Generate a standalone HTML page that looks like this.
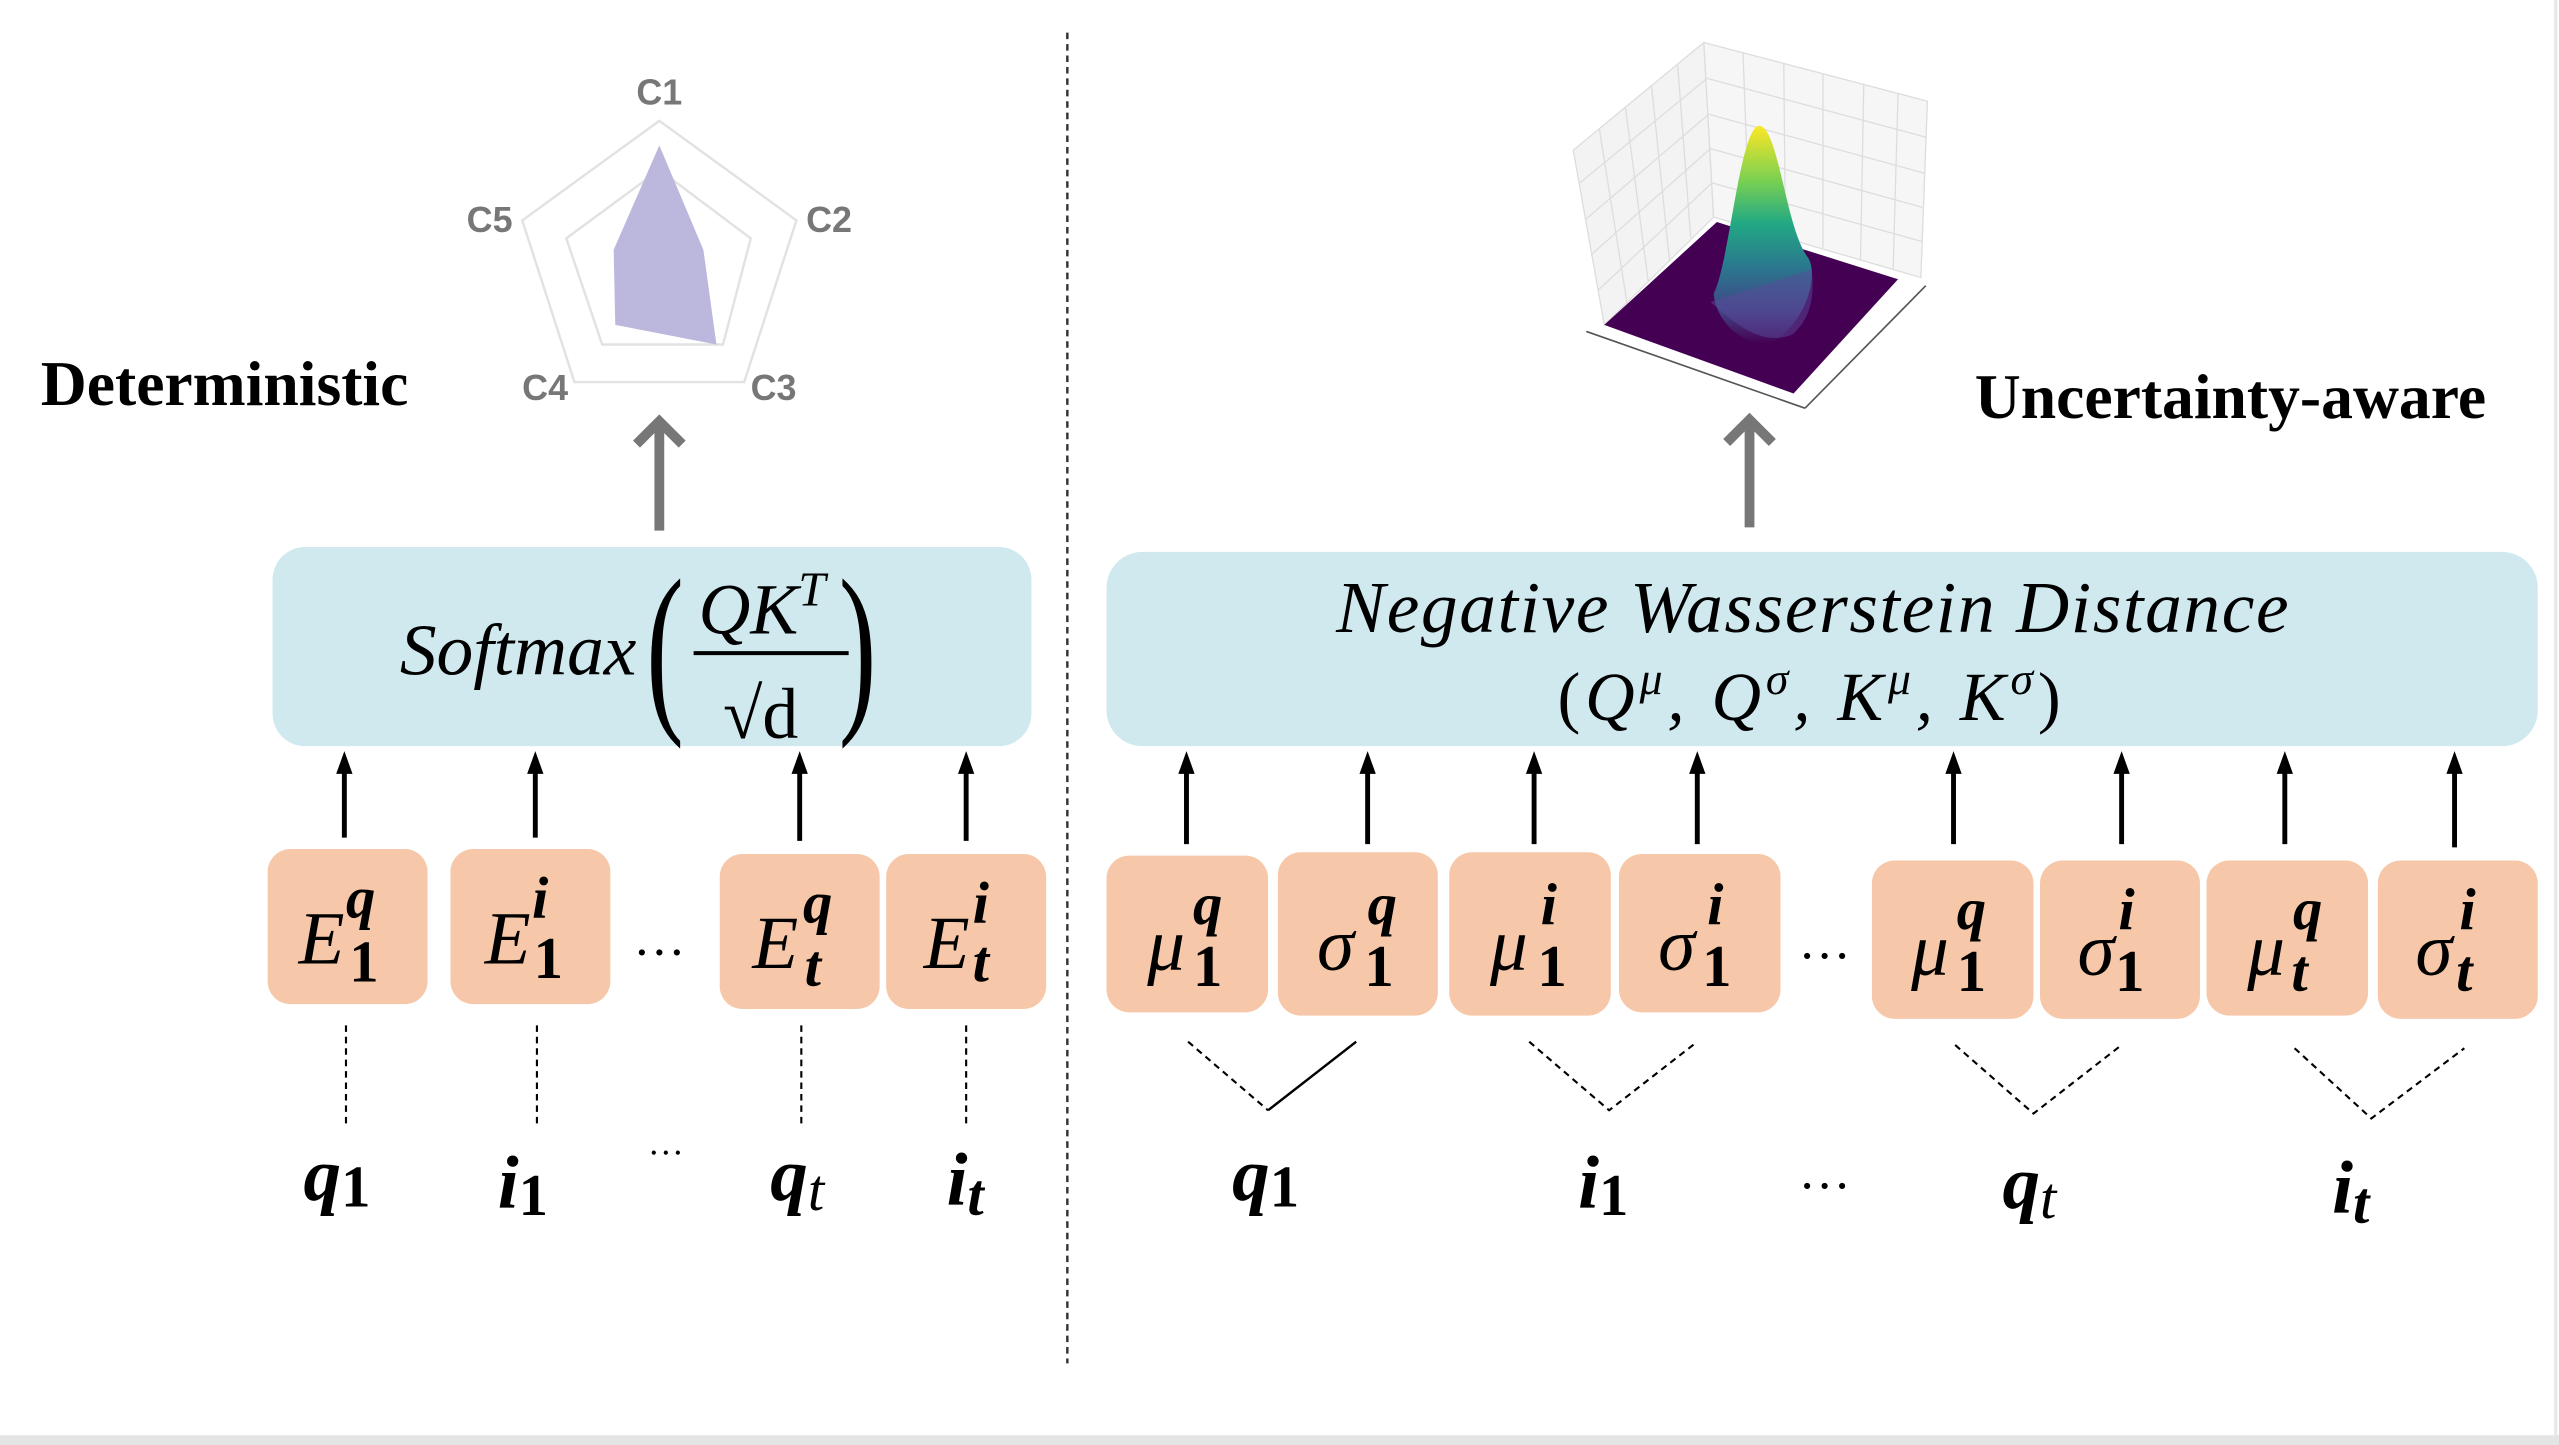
<!DOCTYPE html>
<html><head><meta charset="utf-8"><style>
html,body{margin:0;padding:0;background:#fff;}
svg{display:block;}
.serif{font-family:"Liberation Serif",serif;}
.lab{font-family:"Liberation Serif",serif;font-style:italic;font-weight:bold;}
</style></head><body>
<svg width="2559" height="1445" viewBox="0 0 1568 885" preserveAspectRatio="none" xmlns="http://www.w3.org/2000/svg">
<defs>
<linearGradient id="g" x1="0" y1="0" x2="0" y2="1">
<stop offset="0" stop-color="#fde725"/><stop offset="0.25" stop-color="#7ad151"/><stop offset="0.45" stop-color="#22a884"/><stop offset="0.65" stop-color="#2a788e"/><stop offset="0.85" stop-color="#414487"/><stop offset="1" stop-color="#440154"/>
</linearGradient>
</defs>
<rect x="0" y="879" width="1568" height="6" fill="#e4e4e4"/>
<line x1="1566" y1="0" x2="1566" y2="879" stroke="#e8e8e8" stroke-width="2"/>
<line x1="654" y1="20" x2="654" y2="835" stroke="#333" stroke-width="1.5" stroke-dasharray="4,3"/>

<!-- radar -->
<polygon points="404,74 488,135 456,234 352,234 320,135" fill="none" stroke="#e2e2e2" stroke-width="1.5"/>
<polygon points="404,104 460,146 443,211 369,211 347,146" fill="none" stroke="#e2e2e2" stroke-width="1.5"/>
<polygon points="404,89 431,153 439,211 377,199 376,153" fill="#bcb8dd"/>
<g font-family="Liberation Sans,sans-serif" font-weight="bold" font-size="22" fill="#777" text-anchor="middle">
<text x="404" y="64">C1</text><text x="508" y="142">C2</text><text x="474" y="245">C3</text><text x="334" y="245">C4</text><text x="300" y="142">C5</text></g>
<text x="25" y="248" class="serif" font-weight="bold" font-size="39">Deterministic</text>
<g stroke="#777" stroke-width="6" fill="none"><line x1="404" y1="325" x2="404" y2="258"/><polyline points="390,272 404,258 418,272"/></g>

<rect x="167" y="335" width="465" height="122" rx="20" fill="#d0e9ef"/>
<text x="245" y="413" class="serif" font-style="italic" font-size="45">Softmax</text>
<text x="396" y="434" class="serif" font-size="115" transform="scale(0.6,1)" style="transform-origin:396px 0">(</text>
<text x="514" y="434" class="serif" font-size="115" transform="scale(0.6,1)" style="transform-origin:514px 0">)</text>
<text x="428" y="388" class="serif" font-style="italic" font-size="44">QK<tspan font-size="30" dy="-17">T</tspan></text>
<line x1="425" y1="400" x2="520" y2="400" stroke="#000" stroke-width="2.5"/>
<text x="443" y="452" class="serif" font-size="44">√d</text>

<g stroke="#000" stroke-width="3">
<line x1="211" y1="513" x2="211" y2="470"/><line x1="328" y1="513" x2="328" y2="470"/><line x1="490" y1="515" x2="490" y2="470"/><line x1="592" y1="515" x2="592" y2="470"/>
<line x1="727" y1="517" x2="727" y2="470"/><line x1="838" y1="517" x2="838" y2="470"/><line x1="940" y1="517" x2="940" y2="470"/><line x1="1040" y1="517" x2="1040" y2="470"/>
<line x1="1197" y1="517" x2="1197" y2="470"/><line x1="1300" y1="517" x2="1300" y2="470"/><line x1="1400" y1="517" x2="1400" y2="470"/><line x1="1504" y1="519" x2="1504" y2="470"/>
</g>
<g fill="#000">
<polygon points="206,474 211,460 216,474"/><polygon points="323,474 328,460 333,474"/><polygon points="485,474 490,460 495,474"/><polygon points="587,474 592,460 597,474"/>
<polygon points="722,474 727,460 732,474"/><polygon points="833,474 838,460 843,474"/><polygon points="935,474 940,460 945,474"/><polygon points="1035,474 1040,460 1045,474"/>
<polygon points="1192,474 1197,460 1202,474"/><polygon points="1295,474 1300,460 1305,474"/><polygon points="1395,474 1400,460 1405,474"/><polygon points="1499,474 1504,460 1509,474"/>
</g>

<g fill="#f6c8a9">
<rect x="164" y="520" width="98" height="95" rx="14"/><rect x="276" y="520" width="98" height="95" rx="14"/>
<rect x="441" y="523" width="98" height="95" rx="14"/><rect x="543" y="523" width="98" height="95" rx="14"/>
<rect x="678" y="524" width="99" height="96" rx="14"/><rect x="783" y="522" width="98" height="100" rx="14"/>
<rect x="888" y="522" width="99" height="100" rx="14"/><rect x="992" y="523" width="99" height="97" rx="14"/>
<rect x="1147" y="527" width="99" height="97" rx="14"/><rect x="1250" y="527" width="98" height="97" rx="14"/>
<rect x="1352" y="527" width="99" height="95" rx="14"/><rect x="1457" y="527" width="98" height="97" rx="14"/>
</g>
<g class="serif" font-style="italic" font-size="46">
<text x="183" y="590">E</text><text x="297" y="590">E</text><text x="461" y="593">E</text><text x="566" y="593">E</text>
<text x="703" y="594">μ</text><text x="807" y="594">σ</text><text x="913" y="594">μ</text><text x="1016" y="594">σ</text>
<text x="1171" y="597">μ</text><text x="1273" y="597">σ</text><text x="1377" y="597">μ</text><text x="1480" y="597">σ</text>
</g>
<g class="lab" font-size="36">
<text x="212" y="562">q</text><text x="214" y="601" font-style="normal">1</text>
<text x="326" y="562">i</text><text x="327" y="599" font-style="normal">1</text>
<text x="492" y="565">q</text><text x="493" y="604">t</text>
<text x="596" y="565">i</text><text x="596" y="601">t</text>
<text x="731" y="566">q</text><text x="731" y="604" font-style="normal">1</text>
<text x="838" y="566">q</text><text x="836" y="604" font-style="normal">1</text>
<text x="944" y="566">i</text><text x="942" y="604" font-style="normal">1</text>
<text x="1046" y="566">i</text><text x="1043" y="604" font-style="normal">1</text>
<text x="1199" y="569">q</text><text x="1199" y="607" font-style="normal">1</text>
<text x="1298" y="569">i</text><text x="1296" y="607" font-style="normal">1</text>
<text x="1405" y="569">q</text><text x="1404" y="607">t</text>
<text x="1507" y="569">i</text><text x="1505" y="607">t</text>
</g>
<g class="serif" font-size="32" text-anchor="middle"><text x="404" y="585">…</text><text x="1118" y="587">…</text><text x="1118" y="728">…</text></g>
<text x="408" y="707" class="serif" font-size="22" text-anchor="middle">…</text>

<g stroke="#000" stroke-width="1.3" stroke-dasharray="4,3" fill="none">
<line x1="212" y1="628" x2="212" y2="688"/><line x1="329" y1="628" x2="329" y2="688"/><line x1="491" y1="628" x2="491" y2="688"/><line x1="592" y1="628" x2="592" y2="688"/>
<polyline points="728,638 777,680"/>
<polyline points="937,638 986,680 1040,638"/>
<polyline points="1198,640 1246,682 1300,640"/>
<polyline points="1406,642 1453,685 1510,642"/>
</g>
<line x1="777" y1="680" x2="831" y2="638" stroke="#000" stroke-width="1.5"/>

<g class="lab" font-size="46">
<text x="186" y="735">q<tspan font-size="36" font-style="normal" dy="4">1</tspan></text>
<text x="305" y="740">i<tspan font-size="36" font-style="normal" dy="4">1</tspan></text>
<text x="472" y="735">q<tspan font-size="36" font-weight="normal" dy="6">t</tspan></text>
<text x="580" y="738">i<tspan font-size="36" dy="6">t</tspan></text>
<text x="755" y="735">q<tspan font-size="36" font-style="normal" dy="4">1</tspan></text>
<text x="967" y="740">i<tspan font-size="36" font-style="normal" dy="4">1</tspan></text>
<text x="1227" y="740">q<tspan font-size="36" font-weight="normal" dy="6">t</tspan></text>
<text x="1429" y="743">i<tspan font-size="36" dy="6">t</tspan></text>
</g>

<!-- 3D plot -->
<polygon points="964,92 1044,26 1050,133 983,199" fill="#f3f3f3" stroke="#ddd" stroke-width="0.8"/>
<polygon points="1044,26 1181,62 1177,170 1050,133" fill="#f6f6f6" stroke="#ddd" stroke-width="0.8"/>
<g stroke="#ddd" stroke-width="0.8">
<line x1="980" y1="79" x2="997" y2="186"/><line x1="996" y1="66" x2="1010" y2="173"/><line x1="1012" y1="53" x2="1023" y2="160"/><line x1="1028" y1="40" x2="1036" y2="146"/>
<line x1="1068" y1="32" x2="1072" y2="139"/><line x1="1093" y1="39" x2="1094" y2="146"/><line x1="1117" y1="45" x2="1117" y2="152"/><line x1="1142" y1="52" x2="1140" y2="159"/><line x1="1163" y1="57" x2="1160" y2="165"/>
<line x1="968" y1="112" x2="1046" y2="48"/><line x1="972" y1="134" x2="1047" y2="70"/><line x1="975" y1="156" x2="1048" y2="91"/><line x1="979" y1="178" x2="1049" y2="112"/>
<line x1="1046" y1="48" x2="1180" y2="84"/><line x1="1047" y1="70" x2="1179" y2="106"/><line x1="1048" y1="91" x2="1178" y2="127"/><line x1="1049" y1="112" x2="1178" y2="148"/>
</g>
<polygon points="983,199 1052,136 1163,171 1099,241" fill="#440154"/>
<path d="M1050,180 C1060,160 1066,78 1078,77 C1090,78 1094,140 1108,158 C1115,170 1105,200 1085,210 C1068,212 1052,198 1050,180 Z" fill="url(#g)"/>
<path d="M1048,185 C1065,200 1080,212 1098,205 C1110,195 1112,180 1110,165" fill="#5a4c9a" opacity="0.5"/>
<g stroke="#555" stroke-width="1"><line x1="972" y1="203" x2="1106" y2="250"/><line x1="1106" y1="250" x2="1180" y2="175"/></g>
<text x="1210" y="256" class="serif" font-weight="bold" font-size="39">Uncertainty-aware</text>
<g stroke="#777" stroke-width="6" fill="none"><line x1="1072" y1="323" x2="1072" y2="257"/><polyline points="1058,271 1072,257 1086,271"/></g>

<rect x="678" y="338" width="877" height="119" rx="22" fill="#d0e9ef"/>
<text x="1111" y="387" class="serif" font-style="italic" font-size="45" letter-spacing="1" text-anchor="middle">Negative Wasserstein Distance</text>
<text x="1110" y="441" class="serif" font-style="italic" font-size="42" letter-spacing="3" text-anchor="middle"><tspan font-style="normal">(</tspan>Q<tspan font-size="28" dy="-16">μ</tspan><tspan dy="16">, Q</tspan><tspan font-size="28" dy="-16">σ</tspan><tspan dy="16">, K</tspan><tspan font-size="28" dy="-16">μ</tspan><tspan dy="16">, K</tspan><tspan font-size="28" dy="-16">σ</tspan><tspan dy="16" font-style="normal">)</tspan></text>
</svg>
</body></html>
